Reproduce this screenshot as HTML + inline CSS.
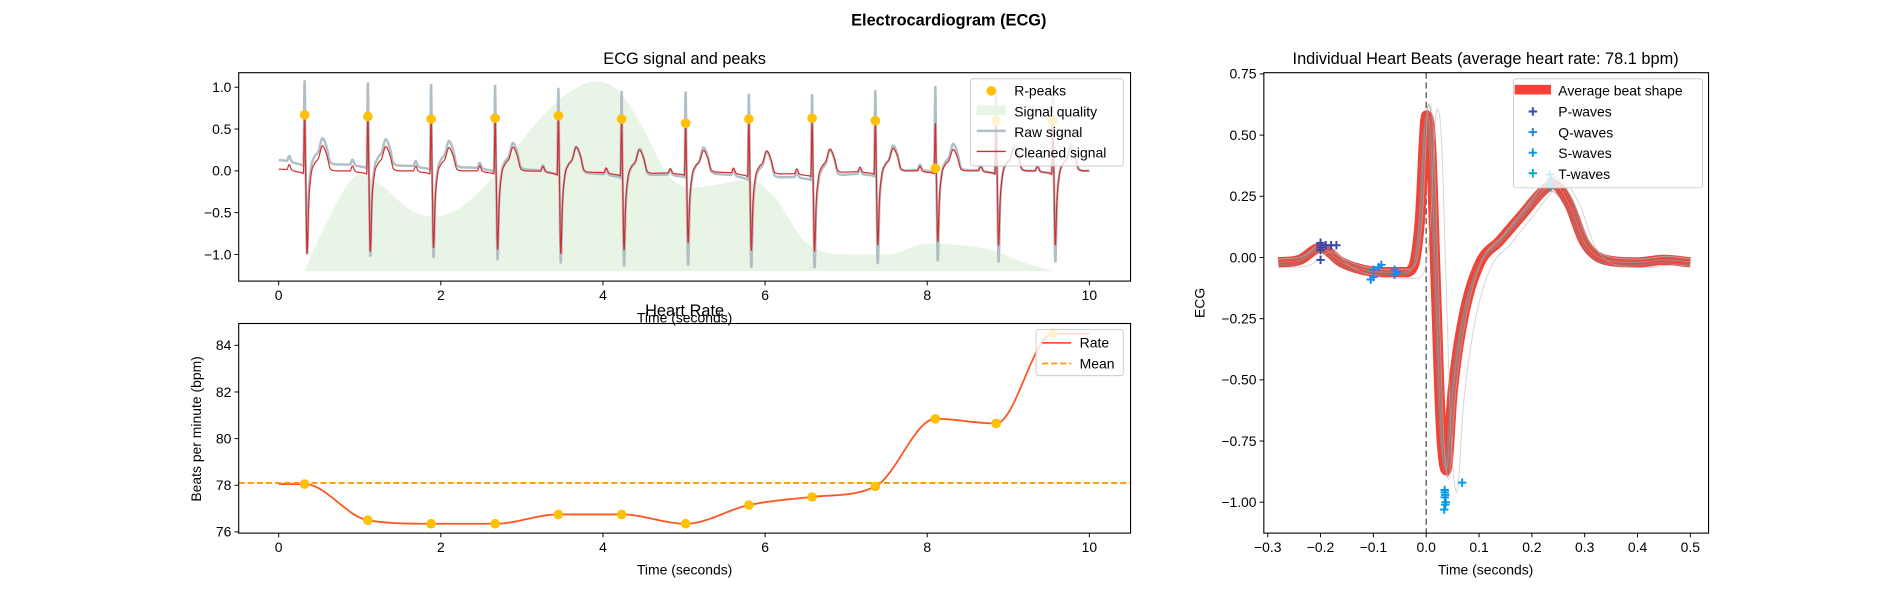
<!DOCTYPE html>
<html><head><meta charset="utf-8"><style>
html,body{margin:0;padding:0;background:#fff}
svg{display:block;font-family:"Liberation Sans","DejaVu Sans",sans-serif}
</style></head><body>
<svg id="fig" width="1900" height="600" viewBox="0 0 1568 495.2" preserveAspectRatio="none" xmlns="http://www.w3.org/2000/svg">
<defs><clipPath id="c1"><rect x="197" y="60" width="736" height="172"/></clipPath></defs>
<rect width="1568" height="495.2" fill="#fff"/>
<text x="783" y="21" font-size="13.5" font-weight="bold" text-anchor="middle">Electrocardiogram (ECG)</text>
<g id="ax1"></g><g id="ax2"></g><g id="ax3"></g>
</svg>
<script>
// ---- data: ECG panel ----
const peakTimes=[0.32,1.1,1.88,2.67,3.45,4.23,5.02,5.8,6.58,7.36,8.1,8.85,9.55];
const peakValues=[0.67,0.65,0.62,0.63,0.66,0.62,0.57,0.62,0.63,0.6,0.03,0.6,0.6];
const beatOffsets=[-0.3,-0.22,-0.19,-0.16,-0.1,-0.04,-0.015,0,0.012,0.03,0.05,0.08,0.12,0.17,0.22,0.27,0.32,0.4,0.46];
const cleanBeat=[0,0.0,0.06,0.0,-0.02,-0.03,-0.04,0.67,0,-1.0,-0.4,-0.05,0.08,0.15,0.3,0.2,0.02,0,0];
const rawBeat=[0,0.0,0.06,0.0,-0.02,-0.03,-0.04,1.0,0,-1.1,-0.4,-0.05,0.08,0.15,0.31,0.21,0.02,0,0];
const driftTimes=[0,0.5,1.2,2,3,4,4.6,5.3,6,6.6,7.4,8,9,10];
const driftValues=[0.13,0.08,0.07,0.05,0.02,-0.04,-0.05,-0.03,-0.08,-0.07,-0.02,0.02,0,0];
const cleanDriftValues=[0.02,0.0,0.0,0.0,0.0,-0.02,-0.03,-0.01,-0.04,-0.03,0,0,0,0];
const qualityTimes=[0.32,0.6,1.0,1.3,1.6,1.9,2.3,2.8,3.2,3.6,3.9,4.2,4.5,4.8,5.1,5.5,5.8,6.1,6.5,7.0,7.5,8.0,8.3,8.8,9.2,9.55];
const qualityValues=[-1.2,-0.6,-0.05,-0.2,-0.45,-0.55,-0.4,0.1,0.6,0.95,1.07,0.95,0.5,-0.05,-0.2,-0.15,-0.1,-0.3,-0.85,-1.0,-1.0,-0.87,-0.88,-0.95,-1.1,-1.2];
const ecgXTicks=[0,2,4,6,8,10];
const ecgYTicks=[-1.0,-0.5,0.0,0.5,1.0];
// ---- data: heart rate ----
const rateValues=[78.05,76.5,76.35,76.35,76.75,76.75,76.35,77.15,77.5,77.95,80.85,80.65,84.5];
const rateMean=78.1;
const rateYTicks=[76,78,80,82,84];
// ---- data: heart beats ----
const avgOffsets=[-0.28,-0.24,-0.2,-0.16,-0.12,-0.08,-0.04,-0.025,-0.012,0,0.008,0.018,0.028,0.038,0.05,0.07,0.1,0.14,0.18,0.22,0.24,0.27,0.3,0.34,0.4,0.45,0.5];
const avgValues=[-0.02,-0.01,0.04,-0.02,-0.05,-0.06,-0.06,-0.04,0.15,0.58,0.5,-0.1,-0.7,-0.87,-0.55,-0.25,-0.03,0.07,0.17,0.27,0.3,0.22,0.06,-0.01,-0.02,-0.01,-0.02];
const beatShift=[0,0.003,-0.003,0.02,0.002,-0.002,0.005,0];
const beatScale=[1,1.05,0.95,1.08,1.02,0.98,1.06,1.0];
const beatLevel=[0,0.015,-0.015,-0.02,0.01,-0.01,0.015,0];
const pWaveX=[-0.2,-0.2,-0.19,-0.18,-0.17,-0.2,-0.2,-0.2];
const pWaveY=[0.05,0.04,0.05,0.05,0.05,-0.01,0.06,0.03];
const qWaveX=[-0.1,-0.1,-0.085,-0.06,-0.055,-0.09,-0.105,-0.06];
const qWaveY=[-0.05,-0.08,-0.03,-0.05,-0.06,-0.04,-0.09,-0.07];
const sWaveX=[0.035,0.036,0.037,0.034,0.035,0.068,0.036,0.035];
const sWaveY=[-0.95,-0.97,-1.0,-1.03,-0.96,-0.92,-1.01,-0.98];
const tWaveX=[0.235,0.236,0.234,0.236];
const tWaveY=[0.3,0.32,0.34,0.29];
const beatXTicks=[-0.3,-0.2,-0.1,0.0,0.1,0.2,0.3,0.4,0.5];
const beatYTicks=[-1.0,-0.75,-0.5,-0.25,0.0,0.25,0.5,0.75];

const NS="http://www.w3.org/2000/svg";
function el(parent,tag,attrs,txt){const e=document.createElementNS(NS,tag);for(const k in attrs)e.setAttribute(k,attrs[k]);if(txt!==undefined)e.textContent=txt;parent.appendChild(e);return e;}
function lin(d0,d1,r0,r1){return v=>r0+(v-d0)*(r1-r0)/(d1-d0);}
function interp(xs,ys,x){if(x<=xs[0])return ys[0];if(x>=xs[xs.length-1])return ys[ys.length-1];for(let i=1;i<xs.length;i++){if(x<=xs[i]){const f=(x-xs[i-1])/(xs[i]-xs[i-1]);return ys[i-1]+f*(ys[i]-ys[i-1]);}}}
// monotone cubic (Fritsch-Carlson)
function monotone(xs,ys){const n=xs.length,d=[],m=new Array(n);
  for(let i=0;i<n-1;i++)d.push((ys[i+1]-ys[i])/(xs[i+1]-xs[i]));
  m[0]=d[0];m[n-1]=d[n-2];
  for(let i=1;i<n-1;i++){m[i]=(d[i-1]*d[i]<=0)?0:(d[i-1]+d[i])/2;}
  for(let i=0;i<n-1;i++){if(d[i]===0){m[i]=0;m[i+1]=0;continue;}const a=m[i]/d[i],b=m[i+1]/d[i],s=a*a+b*b;if(s>9){const t=3/Math.sqrt(s);m[i]=t*a*d[i];m[i+1]=t*b*d[i];}}
  return x=>{if(x<=xs[0])return ys[0];if(x>=xs[n-1])return ys[n-1];let i=0;while(x>xs[i+1])i++;
    const h=xs[i+1]-xs[i],t=(x-xs[i])/h,t2=t*t,t3=t2*t;
    return (2*t3-3*t2+1)*ys[i]+(t3-2*t2+t)*h*m[i]+(-2*t3+3*t2)*ys[i+1]+(t3-t2)*h*m[i+1];};}
function tickFmt(v,dec){return (v<0?"\u2212":"")+Math.abs(v).toFixed(dec);}
function frame(g,x0,y0,x1,y1){const r=el(g,"rect",{x:x0,y:y0,width:x1-x0,height:y1-y0,fill:"none",stroke:"#000","stroke-width":0.9});}
function xTicks(g,ticks,sx,y1,dec){ticks.forEach(t=>{const x=sx(t);el(g,"line",{x1:x,x2:x,y1:y1,y2:y1+3.5,stroke:"#000","stroke-width":0.8});const tx=el(g,"text",{x:x,y:y1+15.5,"font-size":11.5,"text-anchor":"middle"},tickFmt(t,dec));});}
function yTicks(g,ticks,sy,x0,dec){ticks.forEach(t=>{const y=sy(t);el(g,"line",{x1:x0-3.5,x2:x0,y1:y,y2:y,stroke:"#000","stroke-width":0.8});const tx=el(g,"text",{x:x0-6,y:y+4,"font-size":11.5,"text-anchor":"end"},tickFmt(t,dec));});}

// ===== Panel 1: ECG =====
(function(){
const g=document.getElementById("ax1");
const X0=197,X1=933,Y0=60,Y1=232;
const sx=lin(0,10,230,899), sy=lin(0,1,141,72);
const qf=monotone(qualityTimes,qualityValues);
let d="M"+sx(qualityTimes[0])+","+sy(-1.2);
for(let t=qualityTimes[0];t<=qualityTimes[qualityTimes.length-1]+1e-6;t+=0.02)d+=" L"+sx(t).toFixed(2)+","+sy(qf(t)).toFixed(2);
d+=" L"+sx(qualityTimes[qualityTimes.length-1])+","+sy(-1.2)+"Z";
const q=el(g,"path",{d:d,fill:"#e8f4e6"});

const rawT=monotone(beatOffsets,rawBeat),clT=monotone(beatOffsets,cleanBeat);
function sig(t,raw){let v=raw?interp(driftTimes,driftValues,t):interp(driftTimes,cleanDriftValues,t);
  peakTimes.forEach((p,i)=>{const o=t-p;if(o>=beatOffsets[0]&&o<=beatOffsets[beatOffsets.length-1]){const s=raw?1:Math.max(peakValues[i],0.57)/0.67;v+=(raw?rawT(o):clT(o))*s;}});return v;}
let rawD="",clD="";
for(let t=0;t<=10.0001;t+=0.003){const x=sx(t).toFixed(2);rawD+=(t===0?"M":"L")+x+","+sy(sig(t,true)).toFixed(2);clD+=(t===0?"M":"L")+x+","+sy(sig(t,false)).toFixed(2);}
const cg=el(g,"g",{"clip-path":"url(#c1)"});
const r=el(cg,"path",{d:rawD,fill:"none",stroke:"#b0bec5","stroke-width":2});

const c=el(cg,"path",{d:clD,fill:"none",stroke:"#d32f2f","stroke-width":1});

peakTimes.forEach((p,i)=>{const m=el(g,"circle",{cx:sx(p),cy:sy(peakValues[i]),r:4,fill:"#ffc107"});
  });
frame(g,X0,Y0,X1,Y1);
xTicks(g,ecgXTicks,sx,Y1,0);yTicks(g,ecgYTicks,sy,X0,1);
const t=el(g,"text",{x:565,y:53,"font-size":13.5,"text-anchor":"middle"},"ECG signal and peaks");
const xl=el(g,"text",{x:565,y:266,"font-size":11.5,"text-anchor":"middle"},"Time (seconds)");
const lg=el(g,"g",{});
el(lg,"rect",{x:801,y:65,width:126,height:72,rx:2,fill:"#fff","fill-opacity":0.8,stroke:"#ccc","stroke-width":0.8});
el(lg,"circle",{cx:818,cy:75,r:4,fill:"#ffc107"});
el(lg,"rect",{x:806,y:87,width:24,height:8,fill:"#e8f4e6"});
el(lg,"line",{x1:806,x2:830,y1:108,y2:108,stroke:"#b0bec5","stroke-width":2});
el(lg,"line",{x1:806,x2:830,y1:125,y2:125,stroke:"#d32f2f","stroke-width":1.2});
["R-peaks","Signal quality","Raw signal","Cleaned signal"].forEach((s,i)=>{const e=el(lg,"text",{x:837,y:79+i*17,"font-size":11.5},s);});
})();

// ===== Panel 2: Heart rate =====
(function(){
const g=document.getElementById("ax2");
const X0=197,X1=933,Y0=267,Y1=440;
const sx=lin(0,10,230,899), sy=lin(76,84,439,285);
const xs=[0].concat(peakTimes,[10]), ys=[rateValues[0]].concat(rateValues,[rateValues[rateValues.length-1]]);
const f=monotone(xs,ys);
let d="";for(let t=0;t<=10.0001;t+=0.02)d+=(d?"L":"M")+sx(t).toFixed(2)+","+sy(f(t)).toFixed(2);
const ln=el(g,"path",{d:d,fill:"none",stroke:"#ff5722","stroke-width":1.5});

const mn=el(g,"line",{x1:X0,x2:X1,y1:sy(rateMean),y2:sy(rateMean),stroke:"#ff9800","stroke-width":1.5,"stroke-dasharray":"5,2.5"});

peakTimes.forEach((p,i)=>{const m=el(g,"circle",{cx:sx(p),cy:sy(rateValues[i]),r:4,fill:"#ffc107"});
  });
frame(g,X0,Y0,X1,Y1);
xTicks(g,ecgXTicks,sx,Y1,0);yTicks(g,rateYTicks,sy,X0,0);
const t=el(g,"text",{x:565,y:261,"font-size":13.5,"text-anchor":"middle"},"Heart Rate");
const xl=el(g,"text",{x:565,y:474,"font-size":11.5,"text-anchor":"middle"},"Time (seconds)");
const yl=el(g,"text",{x:0,y:0,"font-size":11.5,"text-anchor":"middle",transform:"translate(166,354) rotate(-90)"},"Beats per minute (bpm)");
const lg=el(g,"g",{});
el(lg,"rect",{x:855,y:272,width:72,height:38,rx:2,fill:"#fff","fill-opacity":0.8,stroke:"#ccc","stroke-width":0.8});
el(lg,"line",{x1:860,x2:884,y1:283,y2:283,stroke:"#ff5722","stroke-width":1.5});
el(lg,"line",{x1:860,x2:884,y1:300,y2:300,stroke:"#ff9800","stroke-width":1.5,"stroke-dasharray":"5,2.5"});
["Rate","Mean"].forEach((s,i)=>{const e=el(lg,"text",{x:891,y:287+i*17,"font-size":11.5},s);});
})();

// ===== Panel 3: heart beats =====
(function(){
const g=document.getElementById("ax3");
const X0=1043,X1=1410,Y0=60,Y1=440;
const sx=lin(0,0.5,1177,1395), sy=lin(0,0.75,212.5,61);
const vl=el(g,"line",{x1:sx(0),x2:sx(0),y1:Y0,y2:Y1,stroke:"#666","stroke-width":1.2,"stroke-dasharray":"5,3"});

const f=monotone(avgOffsets,avgValues);
function pathFor(shift,scale,level){let d="";for(let t=-0.28;t<=0.5001;t+=0.002){const v=f(t-shift)*scale+level;d+=(d?"L":"M")+sx(t).toFixed(2)+","+sy(v).toFixed(2);}return d;}
const avg=el(g,"path",{d:pathFor(0,1,0),fill:"none",stroke:"#f44336","stroke-width":8.5,"stroke-linejoin":"round"});

beatShift.forEach((s,i)=>{const b=el(g,"path",{d:pathFor(s,beatScale[i],beatLevel[i]),fill:"none",stroke:i%3===0?"#bbb":"#888","stroke-width":0.8,"stroke-opacity":0.6});
  });
function plus(x,y,col,name){const p=el(g,"path",{d:`M${x-3.5},${y}h7M${x},${y-3.5}v7`,stroke:col,"stroke-width":1.6});}
pWaveX.forEach((x,i)=>plus(sx(x),sy(pWaveY[i]),"#3949ab","p-wave-marker"));
qWaveX.forEach((x,i)=>plus(sx(x),sy(qWaveY[i]),"#1e88e5","q-wave-marker"));
sWaveX.forEach((x,i)=>plus(sx(x),sy(sWaveY[i]),"#039be5","s-wave-marker"));
tWaveX.forEach((x,i)=>plus(sx(x),sy(tWaveY[i]),"#00acc1","t-wave-marker"));
frame(g,X0,Y0,X1,Y1);
xTicks(g,beatXTicks,sx,Y1,1);yTicks(g,beatYTicks,sy,X0,2);
const t=el(g,"text",{x:1226,y:53,"font-size":13.5,"text-anchor":"middle"},"Individual Heart Beats (average heart rate: 78.1 bpm)");
const xl=el(g,"text",{x:1226,y:474,"font-size":11.5,"text-anchor":"middle"},"Time (seconds)");
const yl=el(g,"text",{x:0,y:0,"font-size":11.5,"text-anchor":"middle",transform:"translate(994,250) rotate(-90)"},"ECG");
const lg=el(g,"g",{});
el(lg,"rect",{x:1249,y:65,width:156,height:90,rx:2,fill:"#fff","fill-opacity":0.8,stroke:"#ccc","stroke-width":0.8});
el(lg,"rect",{x:1250,y:70,width:30,height:8,fill:"#f44336"});
[["#3949ab",92],["#1e88e5",109],["#039be5",126],["#00acc1",143]].forEach(a=>el(lg,"path",{d:`M${1261.5},${a[1]}h7M1265,${a[1]-3.5}v7`,stroke:a[0],"stroke-width":1.6}));
["Average beat shape","P-waves","Q-waves","S-waves","T-waves"].forEach((s,i)=>{const e=el(lg,"text",{x:1286,y:79+i*17.2,"font-size":11.5},s);});
})();
</script>
</body></html>
